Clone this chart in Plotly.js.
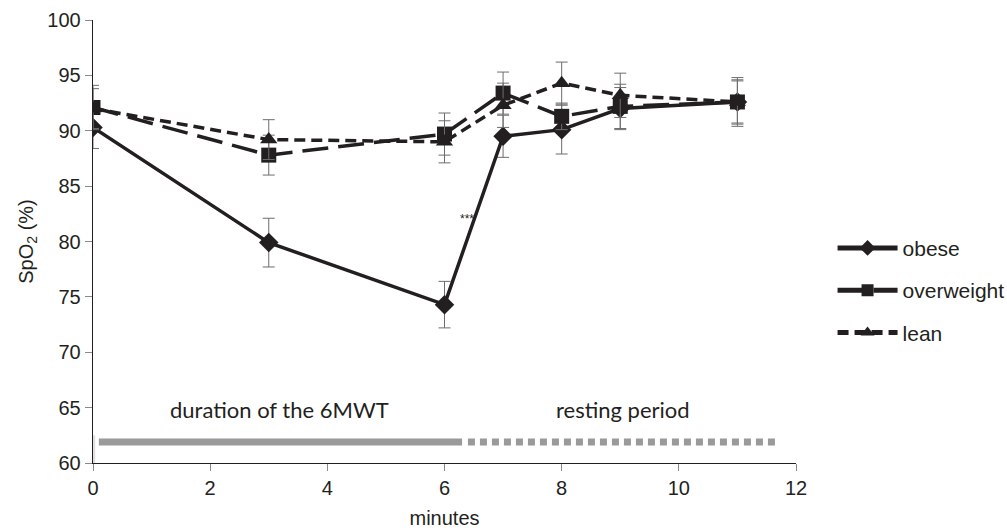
<!DOCTYPE html>
<html><head><meta charset="utf-8">
<script src="https://cdn.plot.ly/plotly-3.0.1.min.js"></script>
<style>body{margin:0;background:#fff}#c{width:1007px;height:530px}</style>
</head><body><div id="c"></div>
<script>
const minutes = [0, 3, 6, 7, 8, 9, 11];
const obese = [90.3, 79.9, 74.3, 89.5, 90.1, 92.0, 92.6];
const obeseErr = [1.9, 2.2, 2.1, 1.9, 2.2, 1.9, 2.0];
const overweight = [92.1, 87.8, 89.7, 93.4, 91.3, 92.2, 92.6];
const overweightErr = [2.0, 1.8, 1.9, 1.9, 1.2, 2.0, 2.2];
const lean = [92.0, 89.2, 89.0, 92.3, 94.3, 93.2, 92.6];
const leanErr = [1.8, 1.8, 1.9, 2.0, 1.9, 2.0, 1.9];
const seriesNames = ['obese', 'overweight', 'lean'];
const phaseLabels = ['duration of the 6MWT', 'resting period'];
const phaseStart = [0.1, 6.4];
const phaseEnd = [6.3, 11.7];
const sigMark = '***';

const ink = '#231f20';
const sans = '"Liberation Sans", Arial, sans-serif';
const errStyle = {type: 'data', visible: true, color: '#6d6d6d', thickness: 1, width: 6};
function tr(y, e, name, sym, size, dash, grp) {
  return {x: minutes, y: y, name: name, type: 'scatter', mode: 'lines+markers', legendgroup: grp,
    line: {color: ink, width: 3.5, dash: dash},
    marker: {symbol: sym, size: size, color: ink},
    error_y: Object.assign({array: e}, errStyle)};
}
const data = [
  tr(obese, obeseErr, seriesNames[0], 'diamond', 15, 'solid', 'a'),
  tr(overweight, overweightErr, seriesNames[1], 'square', 15, '26px,10px', 'b'),
  tr(lean, leanErr, seriesNames[2], 'triangle-up', 15, '11px,6px', 'c')
];
const layout = {
  width: 1007, height: 530,
  margin: {l: 93, r: 211, t: 20, b: 67, autoexpand: false},
  paper_bgcolor: '#fff', plot_bgcolor: '#fff',
  font: {family: sans, size: 20, color: ink},
  showlegend: true,
  legend: {x: 1.052, y: 0.39, xanchor: 'left', yanchor: 'middle', itemwidth: 60,
    itemsizing: 'constant', traceorder: 'grouped',
    tracegroupgap: 12, font: {family: sans, size: 21, color: ink}, itemclick: false},
  xaxis: {range: [0, 12], tickvals: [0, 2, 4, 6, 8, 10, 12], showline: true, linecolor: ink, linewidth: 1.3,
    ticks: 'outside', ticklen: 7, tickcolor: '#8a8a8a', showgrid: false, zeroline: false,
    tickfont: {family: sans, size: 20},
    title: {text: 'minutes', font: {family: sans, size: 20}, standoff: 12}},
  yaxis: {range: [60, 100], dtick: 5, showline: true, linecolor: ink, linewidth: 1.3,
    ticks: 'outside', ticklen: 7, tickcolor: '#8a8a8a', showgrid: false, zeroline: false,
    tickfont: {family: sans, size: 20},
    title: {text: 'SpO<sub>2</sub> (%)', font: {family: sans, size: 20}, standoff: 8}},
  shapes: [
    {type: 'line', xref: 'x', yref: 'y', x0: phaseStart[0], x1: phaseEnd[0], y0: 61.9, y1: 61.9,
      line: {color: '#9a9a9a', width: 7}},
    {type: 'line', xref: 'x', yref: 'y', x0: phaseStart[1], x1: phaseEnd[1], y0: 61.9, y1: 61.9,
      line: {color: '#9a9a9a', width: 7, dash: '7px,5px'}},
    {type: 'line', xref: 'x', yref: 'y', x0: 0.02, x1: 0.02, y0: 60, y1: 62.5,
      line: {color: '#dddddd', width: 2}}
  ],
  annotations: [
    {x: 3.19, y: 64.8, xref: 'x', yref: 'y', text: phaseLabels[0], showarrow: false,
      font: {family: 'Lato, Carlito, sans-serif', size: 22, color: ink}},
    {x: 9.05, y: 64.8, xref: 'x', yref: 'y', text: phaseLabels[1], showarrow: false,
      font: {family: 'Lato, Carlito, sans-serif', size: 22, color: ink}},
    {x: 6.38, y: 82.0, xref: 'x', yref: 'y', text: sigMark, showarrow: false,
      font: {family: sans, size: 12, color: ink}}
  ]
};
Plotly.newPlot('c', data, layout, {displayModeBar: false, staticPlot: true});
</script></body></html>
